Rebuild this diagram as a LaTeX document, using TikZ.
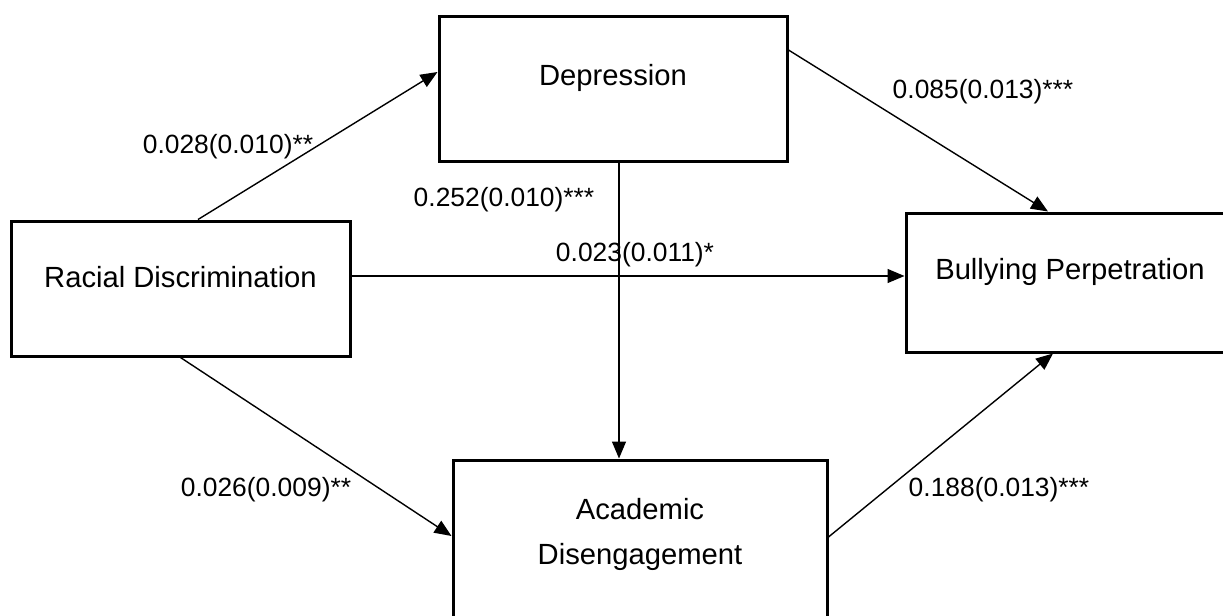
\documentclass[tikz,border=0pt]{standalone}
\usepackage{fontspec}
\setmainfont{Liberation Sans}
\usetikzlibrary{arrows.meta}
\tikzset{
  box/.style={draw, line width=1.5pt, inner sep=0pt},
  path/.style={line width=0.7pt, -{Triangle[length=8.5pt,width=7pt]}},
  coef/.style={font=\fontsize{13.2}{15}\selectfont}
}
\begin{document}
\begin{tikzpicture}[x=0.5pt,y=-0.5pt,font=\fontsize{14.6}{22.5}\selectfont]
\useasboundingbox (0,0) rectangle (1223,616);
\node[box, minimum width=169.5pt, minimum height=67.5pt,
  label={[yshift=5.75pt]center:Racial Discrimination}] (rd) at (180.5,288.5) {};
\node[box, minimum width=174pt, minimum height=72.5pt,
  label={[yshift=5.25pt]center:Depression}] (dep) at (613,88.5) {};
\node[box, minimum width=164pt, minimum height=69.5pt,
  label={[yshift=5.25pt]center:Bullying Perpetration}] (bp) at (1070,282.5) {};
\node[box, minimum width=187pt, minimum height=85pt,
  label={[yshift=5.25pt, align=center]center:Academic\\Disengagement}] (ad) at (640,545) {};

\draw[path] ([xshift=8.75pt]rd.north) -- ([yshift=8.25pt]dep.west);
\draw[path] ([yshift=19.25pt]dep.east) -- ([xshift=-11pt]bp.north);
\draw[path] ([yshift=6.25pt]rd.east) -- ([yshift=6.25pt]rd.east -| bp.west);
\draw[path] ([xshift=3pt]dep.south) -- ([xshift=3pt]dep.south |- ad.north);
\draw[path] (rd.south) -- ([yshift=4.5pt]ad.west);
\draw[path] ([yshift=4pt]ad.east) -- ([xshift=-8.5pt]bp.south);

\foreach \x/\y/\n/\t in {228/147/a/0.028(0.010)**, 983/92/b/0.085(0.013)***,
  504/200/c/0.252(0.010)***, 635/255/d/0.023(0.011)*,
  266/490/e/0.026(0.009)**, 999/490/f/0.188(0.013)***}
{
    \node[coef] (lab\n) at (\x,\y) {\t};
}
\end{tikzpicture}
\end{document}
